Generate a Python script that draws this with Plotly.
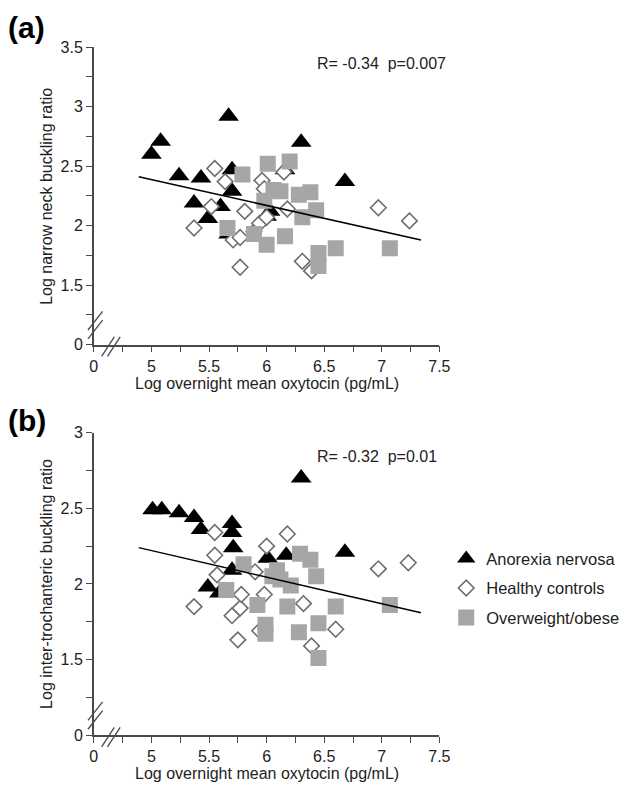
import plotly.graph_objects as go

W, H = 631, 796

# ---------------- data: panel (a) ----------------
an_a_x = [5.00, 5.08, 5.24, 5.43, 5.37, 5.49, 5.60, 5.67, 5.70, 5.70, 6.00, 6.03, 6.16, 6.30, 6.68, 5.67]
an_a_y = [2.60, 2.71, 2.42, 2.40, 2.19, 2.06, 2.16, 2.92, 2.47, 2.29, 2.08, 2.12, 2.47, 2.70, 2.37, 1.93]

hc_a_x = [5.37, 5.52, 5.55, 5.64, 5.71, 5.77, 5.77, 5.81, 5.89, 5.94, 5.96, 5.98, 6.00, 6.15, 6.18, 6.31, 6.39, 6.97, 7.24]
hc_a_y = [1.98, 2.16, 2.48, 2.37, 1.88, 1.90, 1.65, 2.12, 1.95, 2.02, 2.38, 2.31, 2.07, 2.45, 2.14, 1.70, 1.62, 2.15, 2.04]

ob_a_x = [5.66, 5.79, 5.89, 5.98, 6.00, 6.01, 6.06, 6.12, 6.16, 6.20, 6.28, 6.31, 6.38, 6.43, 6.45, 6.45, 6.60, 7.07]
ob_a_y = [1.98, 2.43, 1.93, 2.21, 1.84, 2.52, 2.30, 2.29, 1.91, 2.54, 2.26, 2.07, 2.28, 2.13, 1.77, 1.66, 1.81, 1.81]

fit_a_x = [4.89, 7.34]
fit_a_y = [2.41, 1.88]

# ---------------- data: panel (b) ----------------
an_b_x = [5.01, 5.09, 5.24, 5.37, 5.43, 5.70, 5.70, 5.71, 5.70, 5.49, 5.59, 6.01, 6.17, 6.30, 6.68]
an_b_y = [2.49, 2.49, 2.47, 2.44, 2.36, 2.40, 2.34, 2.24, 2.09, 1.98, 1.94, 2.17, 2.19, 2.70, 2.21]

hc_b_x = [5.37, 5.55, 5.55, 5.57, 5.70, 5.75, 5.77, 5.78, 5.90, 5.94, 5.98, 6.00, 6.18, 6.32, 6.39, 6.60, 6.97, 7.23]
hc_b_y = [1.85, 2.34, 2.19, 2.06, 1.79, 1.63, 1.84, 1.93, 2.08, 1.69, 1.93, 2.25, 2.33, 1.87, 1.59, 1.70, 2.10, 2.14]

ob_b_x = [5.65, 5.80, 5.92, 5.99, 5.99, 6.05, 6.09, 6.12, 6.18, 6.21, 6.28, 6.29, 6.38, 6.43, 6.45, 6.45, 6.60, 7.07]
ob_b_y = [1.96, 2.13, 1.86, 1.73, 1.67, 2.05, 2.09, 2.03, 1.85, 1.99, 1.68, 2.20, 2.16, 2.05, 1.74, 1.51, 1.85, 1.86]

fit_b_x = [4.89, 7.34]
fit_b_y = [2.24, 1.81]

# ---------------- tick labels ----------------
x_tickvals = [4.5, 5, 5.5, 6, 6.5, 7, 7.5]
x_ticktext = ["0", "5", "5.5", "6", "6.5", "7", "7.5"]
ya_tickvals = [1.0, 1.5, 2.0, 2.5, 3.0, 3.5]
ya_ticktext = ["0", "1.5", "2", "2.5", "3", "3.5"]
yb_tickvals = [1.0, 1.5, 2.0, 2.5, 3.0]
yb_ticktext = ["0", "1.5", "2", "2.5", "3"]

group_names = ["Anorexia nervosa", "Healthy controls", "Overweight/obese"]

FONT = "Liberation Sans, Arial, Helvetica, sans-serif"
AXC = "#4a4a4a"
TXT = "#222222"
SQ = "#a6a6a6"

fig = go.Figure()

def add_panel(xa, ya, an_x, an_y, hc_x, hc_y, ob_x, ob_y, fx, fy, show):
    fig.add_trace(go.Scatter(x=an_x, y=an_y, mode="markers", name=group_names[0],
                             legendgroup="an", showlegend=show, xaxis=xa, yaxis=ya,
                             marker=dict(symbol="triangle-up", size=18, color="black",
                                         line=dict(width=0))))
    fig.add_trace(go.Scatter(x=hc_x, y=hc_y, mode="markers", name=group_names[1],
                             legendgroup="hc", showlegend=show, xaxis=xa, yaxis=ya,
                             marker=dict(symbol="diamond", size=12, color="white",
                                         line=dict(width=1.6, color="#6e6e6e"))))
    fig.add_trace(go.Scatter(x=ob_x, y=ob_y, mode="markers", name=group_names[2],
                             legendgroup="ob", showlegend=show, xaxis=xa, yaxis=ya,
                             marker=dict(symbol="square", size=16, color=SQ,
                                         line=dict(width=0))))
    fig.add_trace(go.Scatter(x=fx, y=fy, mode="lines", showlegend=False, xaxis=xa, yaxis=ya,
                             line=dict(color="black", width=1.5), hoverinfo="skip"))

add_panel("x", "y", an_a_x, an_a_y, hc_a_x, hc_a_y, ob_a_x, ob_a_y, fit_a_x, fit_a_y, True)
add_panel("x2", "y2", an_b_x, an_b_y, hc_b_x, hc_b_y, ob_b_x, ob_b_y, fit_b_x, fit_b_y, False)

# plot-area pixel geometry (page coordinates)
X0, X1 = 92, 446
A_TOP, A_BOT = 40, 344
B_TOP, B_BOT = 434, 743

def px(x):
    return x / W

def py(y):
    return 1 - y / H

axis_common = dict(showgrid=False, zeroline=False, showline=True, linecolor=AXC, linewidth=1.5,
                   ticks="outside", ticklen=6, tickwidth=1.2, tickcolor=AXC,
                   tickfont=dict(family=FONT, size=16, color=TXT), tickmode="array",
                   minor=dict(ticks="outside", ticklen=6, tickwidth=1.2, tickcolor=AXC, dtick=0.25, tick0=0),
                   fixedrange=True)

fig.update_layout(
    width=W, height=H,
    margin=dict(l=0, r=0, t=0, b=0),
    paper_bgcolor="white", plot_bgcolor="white",
    font=dict(family=FONT, color=TXT),
    xaxis=dict(domain=[px(X0), px(X1)], range=[4.5, 7.5], anchor="y",
               tickvals=x_tickvals, ticktext=x_ticktext, **axis_common),
    yaxis=dict(domain=[py(A_BOT), py(A_TOP)], range=[1.0, 3.5], anchor="x",
               tickvals=ya_tickvals, ticktext=ya_ticktext, **axis_common),
    xaxis2=dict(domain=[px(X0), px(X1)], range=[4.5, 7.5], anchor="y2",
                tickvals=x_tickvals, ticktext=x_ticktext, **axis_common),
    yaxis2=dict(domain=[py(B_BOT), py(B_TOP)], range=[1.0, 3.0], anchor="x2",
                tickvals=yb_tickvals, ticktext=yb_ticktext, **axis_common),
    legend=dict(x=px(453), y=py(545), xanchor="left", yanchor="top",
                font=dict(family=FONT, size=16.5, color=TXT), bgcolor="rgba(0,0,0,0)",
                traceorder="grouped", tracegroupgap=5, itemsizing="trace"),
    showlegend=True,
)

ann = []
# panel labels
ann.append(dict(text="<b>(a)</b>", x=px(2), y=py(20), xref="paper", yref="paper",
                xanchor="left", yanchor="middle", showarrow=False,
                font=dict(family=FONT, size=30, color="black")))
ann.append(dict(text="<b>(b)</b>", x=px(2), y=py(421), xref="paper", yref="paper",
                xanchor="left", yanchor="middle", showarrow=False,
                font=dict(family=FONT, size=30, color="black")))
# stats
ann.append(dict(text="R= -0.34  p=0.007", x=px(455), y=py(57), xref="paper", yref="paper",
                xanchor="right", yanchor="middle", showarrow=False,
                font=dict(family=FONT, size=16, color=TXT)))
ann.append(dict(text="R= -0.32  p=0.01", x=px(446), y=py(458), xref="paper", yref="paper",
                xanchor="right", yanchor="middle", showarrow=False,
                font=dict(family=FONT, size=16, color=TXT)))
# axis titles
ann.append(dict(text="Log narrow neck buckling ratio", x=px(44), y=py((A_TOP + A_BOT) / 2),
                xref="paper", yref="paper", textangle=-90, showarrow=False,
                xanchor="center", yanchor="middle", font=dict(family=FONT, size=16, color=TXT)))
ann.append(dict(text="Log inter-trochanteric buckling ratio", x=px(44), y=py((B_TOP + B_BOT) / 2),
                xref="paper", yref="paper", textangle=-90, showarrow=False,
                xanchor="center", yanchor="middle", font=dict(family=FONT, size=16, color=TXT)))
ann.append(dict(text="Log overnight mean oxytocin (pg/mL)", x=px((X0 + X1) / 2), y=py(A_BOT + 40),
                xref="paper", yref="paper", showarrow=False,
                xanchor="center", yanchor="middle", font=dict(family=FONT, size=16, color=TXT)))
ann.append(dict(text="Log overnight mean oxytocin (pg/mL)", x=px((X0 + X1) / 2), y=py(B_BOT + 39),
                xref="paper", yref="paper", showarrow=False,
                xanchor="center", yanchor="middle", font=dict(family=FONT, size=16, color=TXT)))
fig.update_layout(annotations=ann)

# axis break marks (double slashes)
shapes = []
for bot in (A_BOT, B_BOT):
    # y-axis break
    for dy in (0, 9):
        shapes.append(dict(type="line", xref="paper", yref="paper",
                           x0=px(86), y0=py(bot - 6 - dy), x1=px(101), y1=py(bot - 25 - dy),
                           line=dict(color=AXC, width=1.3)))
    # x-axis break
    for dx in (0, 6):
        shapes.append(dict(type="line", xref="paper", yref="paper",
                           x0=px(100 + dx), y0=py(bot + 12), x1=px(113 + dx), y1=py(bot - 8),
                           line=dict(color=AXC, width=1.3)))
fig.update_layout(shapes=shapes)

# remove the default page margin so figure pixels line up with the window
fig.write_html("out.html",
               config={"displayModeBar": False},
               post_script="document.body.style.margin='0';document.body.style.overflow='hidden';")
